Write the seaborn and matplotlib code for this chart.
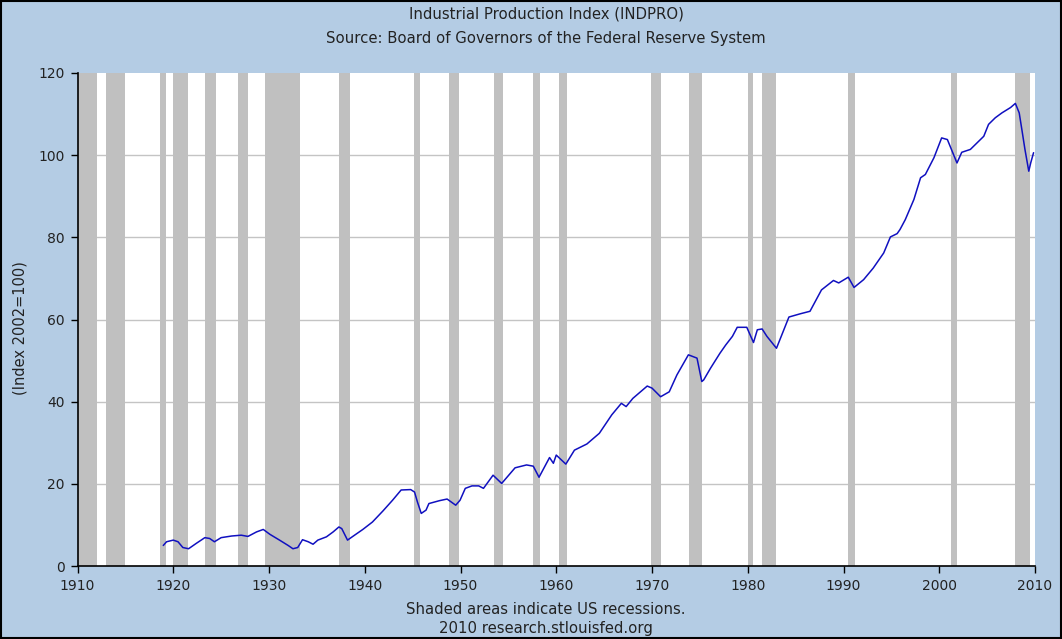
import matplotlib
matplotlib.use("Agg")
import matplotlib.pyplot as plt
import seaborn as sns
import pandas as pd
from matplotlib.patches import Rectangle

# ---- data ----
years = [
    1918.96, 1919.3, 1920.0, 1920.5, 1921.0, 1921.6, 1922.4, 1923.3, 1923.8, 1924.3,
    1925.0, 1926.1, 1927.1, 1927.8, 1928.7, 1929.4, 1930.1, 1931.1, 1932.0, 1932.5,
    1933.0, 1933.5, 1934.1, 1934.6, 1935.1, 1936.0, 1936.7, 1937.3, 1937.6, 1938.2,
    1938.75, 1939.8, 1940.8, 1941.9, 1942.9, 1943.8, 1944.8, 1945.2, 1945.5, 1945.9,
    1946.4, 1946.7, 1947.8, 1948.6, 1949.5, 1949.95, 1950.5, 1951.2, 1951.9, 1952.4,
    1953.4, 1954.3, 1955.7, 1956.9, 1957.6, 1958.2, 1959.3, 1959.7, 1960.0, 1961.0,
    1961.9, 1963.2, 1964.5, 1965.8, 1966.8, 1967.3, 1968.0, 1969.5, 1970.0, 1970.9,
    1971.8, 1972.6, 1973.8, 1974.7, 1975.2, 1975.4, 1976.1, 1976.45, 1977.1, 1977.7,
    1978.4, 1978.9, 1979.9, 1980.6, 1981.0, 1981.5, 1982.0, 1983.0, 1984.3, 1985.5,
    1986.5, 1987.7, 1988.95, 1989.5, 1990.5, 1991.1, 1992.1, 1993.1, 1994.2, 1994.9,
    1995.6, 1995.9, 1996.45, 1997.35, 1998.05, 1998.55, 1999.45, 2000.25, 2000.85, 2001.85,
    2002.35, 2003.25, 2003.95, 2004.65, 2005.15, 2005.85, 2006.55, 2007.45, 2007.95, 2008.35,
    2008.65, 2008.95, 2009.35, 2009.55, 2009.85,
]
values = [
    5.0, 5.9, 6.3, 5.9, 4.5, 4.2, 5.5, 6.9, 6.7, 5.9,
    6.9, 7.3, 7.5, 7.2, 8.3, 8.9, 7.7, 6.3, 5.0, 4.2,
    4.5, 6.4, 5.9, 5.3, 6.3, 7.1, 8.3, 9.5, 9.1, 6.3,
    7.2, 8.9, 10.7, 13.4, 16.0, 18.5, 18.6, 18.0, 15.6, 12.8,
    13.6, 15.2, 15.9, 16.3, 14.8, 16.0, 18.9, 19.5, 19.5, 18.9,
    22.1, 20.1, 23.9, 24.6, 24.3, 21.6, 26.4, 25.0, 27.0, 24.8,
    28.2, 29.7, 32.3, 36.8, 39.6, 38.8, 40.8, 43.8, 43.3, 41.2,
    42.4, 46.5, 51.4, 50.6, 44.9, 45.3, 48.1, 49.4, 51.8, 53.8,
    55.9, 58.1, 58.1, 54.4, 57.5, 57.7, 55.9, 53.0, 60.6, 61.4,
    62.0, 67.2, 69.5, 68.9, 70.3, 67.8, 69.7, 72.5, 76.2, 80.1,
    80.9, 81.9, 84.3, 89.2, 94.5, 95.3, 99.4, 104.2, 103.8, 98.1,
    100.7, 101.4, 103.0, 104.6, 107.5, 109.1, 110.3, 111.6, 112.6, 110.3,
    105.9, 101.4, 96.1, 98.1, 100.6,
]

# NBER recessions (start, end) in decimal years
rec_start = [1910.0, 1913.0, 1918.6, 1920.0, 1923.35, 1926.8, 1929.6, 1937.35, 1945.1,
             1948.85, 1953.5, 1957.6, 1960.3, 1969.9, 1973.85, 1980.0, 1981.5, 1990.5,
             2001.2, 2007.9]
rec_end = [1912.0, 1915.0, 1919.2, 1921.5, 1924.5, 1927.85, 1933.2, 1938.45, 1945.8,
           1949.8, 1954.4, 1958.3, 1961.1, 1970.9, 1975.2, 1980.5, 1982.9, 1991.2,
           2001.9, 2009.45]

x_ticks = [1910, 1920, 1930, 1940, 1950, 1960, 1970, 1980, 1990, 2000, 2010]
y_ticks = [0, 20, 40, 60, 80, 100, 120]

title1 = "Industrial Production Index (INDPRO)"
title2 = "Source: Board of Governors of the Federal Reserve System"
foot1 = "Shaded areas indicate US recessions."
foot2 = "2010 research.stlouisfed.org"
ylabel = "(Index 2002=100)"

# ---- style ----
sns.set_style("white")
plt.rcParams['font.family'] = ['DejaVu Sans']

bg = "#B4CCE4"
txt = "#222222"

fig = plt.figure(figsize=(10.62, 6.39), dpi=100, facecolor=bg)
ax = fig.add_axes([77.5 / 1062, 1 - 566 / 639, (1035 - 77.5) / 1062, (566 - 73) / 639])
ax.set_facecolor("white")

for s, e in zip(rec_start, rec_end):
    ax.axvspan(s, e, color="#C0C0C0", lw=0, zorder=1)

for yv in y_ticks[1:-1]:
    ax.axhline(yv, color="#C4C4C4", lw=1, zorder=0.5)

df = pd.DataFrame({"year": years, "value": values})
sns.lineplot(data=df, x="year", y="value", ax=ax, color="#1010C0", lw=1.1, zorder=3)

ax.set_xlim(1910, 2010)
ax.set_ylim(0, 120)
ax.set_xticks(x_ticks)
ax.set_yticks(y_ticks)
ax.set_xlabel("")
ax.set_ylabel("")
ax.grid(False)

for side in ["top", "right"]:
    ax.spines[side].set_visible(False)
for side in ["left", "bottom"]:
    ax.spines[side].set_color("black")
    ax.spines[side].set_linewidth(1.2)
    ax.spines[side].set_zorder(4)

ax.tick_params(axis="both", which="major", direction="out", length=5, width=1,
               color="black", labelsize=10, labelcolor=txt, pad=4, left=True, bottom=True)

fig.text(20 / 1062, 1 - 328 / 639, ylabel, rotation=90, ha="center", va="center",
         fontsize=10.5, color=txt)
fig.text(546 / 1062, 1 - 14 / 639, title1, ha="center", va="center", fontsize=10.7, color=txt)
fig.text(546 / 1062, 1 - 38 / 639, title2, ha="center", va="center", fontsize=10.7, color=txt)
fig.text(546 / 1062, 1 - 610 / 639, foot1, ha="center", va="center", fontsize=10.7, color=txt)
fig.text(546 / 1062, 1 - 628 / 639, foot2, ha="center", va="center", fontsize=10.7, color=txt)

fig.patches.append(Rectangle((0.0005, 0.0008), 0.999, 0.9984, transform=fig.transFigure,
                             fill=False, edgecolor="black", lw=1.5, zorder=10))

fig.savefig("out.png", dpi=100, facecolor=bg)
